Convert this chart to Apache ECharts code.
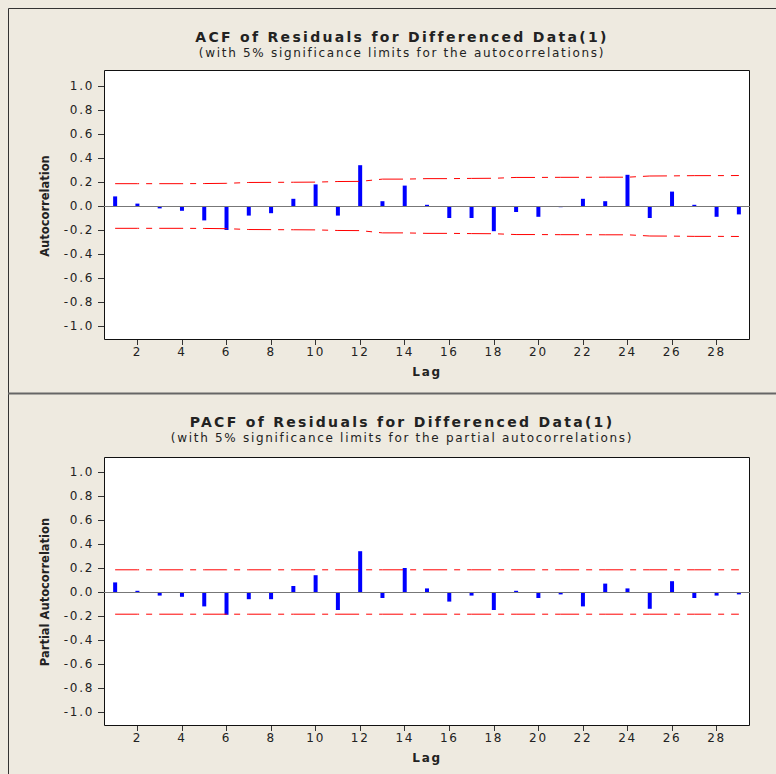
<!DOCTYPE html>
<html>
<head>
<meta charset="utf-8">
<script src="https://cdn.jsdelivr.net/npm/echarts@6/dist/echarts.min.js"></script>
<style>
  html, body { margin: 0; padding: 0; background: #EEEAE0; }
  #main { width: 776px; height: 774px; }
  /* Minitab-like loose letter spacing on titles and tick labels */
  #main text[style*="14px"] { letter-spacing: 2.3px; }
  #main text[style*="12px"] { letter-spacing: 1.7px; }
</style>
</head>
<body>
<div id="main"></div>
<script>
// lags 1..29
const lags = ['1','2','3','4','5','6','7','8','9','10','11','12','13','14','15',
  '16','17','18','19','20','21','22','23','24','25','26','27','28','29']

// ACF of residuals
const acfValues = [0.08, 0.02, -0.02, -0.04, -0.12, -0.20, -0.08, -0.06, 0.06, 0.18,
  -0.08, 0.34, 0.04, 0.17, 0.01, -0.10, -0.10, -0.21, -0.05, -0.09,
  -0.01, 0.06, 0.04, 0.26, -0.10, 0.12, 0.01, -0.09, -0.07]
const acfUpper = [0.186, 0.186, 0.186, 0.186, 0.187, 0.189, 0.196, 0.197, 0.198, 0.199,
  0.204, 0.205, 0.224, 0.224, 0.228, 0.228, 0.230, 0.231, 0.238, 0.238,
  0.239, 0.239, 0.240, 0.240, 0.250, 0.251, 0.253, 0.253, 0.254]
const acfLower = [-0.186, -0.186, -0.186, -0.186, -0.187, -0.189, -0.196, -0.197, -0.198, -0.199,
  -0.204, -0.205, -0.224, -0.224, -0.228, -0.228, -0.230, -0.231, -0.238, -0.238,
  -0.239, -0.239, -0.240, -0.240, -0.250, -0.251, -0.253, -0.253, -0.254]

// PACF of residuals
const pacfValues = [0.08, 0.01, -0.03, -0.04, -0.12, -0.19, -0.06, -0.06, 0.05, 0.14,
  -0.15, 0.34, -0.05, 0.20, 0.03, -0.08, -0.03, -0.15, 0.01, -0.05,
  -0.02, -0.12, 0.07, 0.03, -0.14, 0.09, -0.05, -0.03, -0.02]
const pacfUpper = [0.185, 0.185, 0.185, 0.185, 0.185, 0.185, 0.185, 0.185, 0.185, 0.185,
  0.185, 0.185, 0.185, 0.185, 0.185, 0.185, 0.185, 0.185, 0.185, 0.185,
  0.185, 0.185, 0.185, 0.185, 0.185, 0.185, 0.185, 0.185, 0.185]
const pacfLower = [-0.185, -0.185, -0.185, -0.185, -0.185, -0.185, -0.185, -0.185, -0.185, -0.185,
  -0.185, -0.185, -0.185, -0.185, -0.185, -0.185, -0.185, -0.185, -0.185, -0.185,
  -0.185, -0.185, -0.185, -0.185, -0.185, -0.185, -0.185, -0.185, -0.185]

const font = 'DejaVu Sans'
const textColor = '#222'
const evenLag = (idx) => (idx + 1) % 2 === 0

function xAxis(gridIndex) {
  return {
    type: 'category',
    gridIndex: gridIndex,
    data: lags,
    boundaryGap: true,
    offset: 14,
    name: 'Lag',
    nameLocation: 'middle',
    nameGap: 26,
    nameTextStyle: { fontFamily: font, fontWeight: 'bold', fontSize: 12, color: textColor },
    axisLine: { show: false, onZero: false },
    axisTick: { show: true, interval: evenLag, alignWithLabel: true, length: 5, lineStyle: { color: '#333' } },
    axisLabel: { interval: evenLag, fontFamily: font, fontSize: 12, color: textColor, margin: 6 },
    splitLine: { show: false }
  }
}

function yAxis(gridIndex, name) {
  return {
    type: 'value',
    gridIndex: gridIndex,
    min: -1,
    max: 1,
    interval: 0.2,
    name: name,
    nameLocation: 'middle',
    nameRotate: 90,
    nameGap: 53,
    nameTextStyle: { fontFamily: font, fontWeight: 'bold', fontSize: 11.5, color: textColor },
    axisLine: { show: false },
    axisTick: { show: true, length: 6, lineStyle: { color: '#333' } },
    axisLabel: {
      fontFamily: font, fontSize: 12, color: textColor, margin: 10,
      formatter: (v) => v.toFixed(1)
    },
    splitLine: { show: false }
  }
}

function barSeries(idx, values) {
  return {
    type: 'bar',
    xAxisIndex: idx,
    yAxisIndex: idx,
    data: values,
    barWidth: 4,
    itemStyle: { color: '#0000FF' },
    silent: true,
    z: 3,
    markLine: {
      silent: true,
      symbol: 'none',
      label: { show: false },
      lineStyle: { color: '#777', width: 1, type: 'solid' },
      data: [{ yAxis: 0 }]
    }
  }
}

function limitSeries(idx, values) {
  return {
    type: 'line',
    xAxisIndex: idx,
    yAxisIndex: idx,
    data: values,
    symbol: 'none',
    silent: true,
    z: 4,
    lineStyle: { color: '#FF0000', width: 1, type: [24, 7, 6, 7] }
  }
}

const chart = echarts.init(document.getElementById('main'), null, { renderer: 'svg' })

chart.setOption({
  backgroundColor: '#EEEAE0',
  animation: false,
  title: [
    {
      text: 'ACF of Residuals for Differenced Data(1)',
      subtext: '(with 5% significance limits for the autocorrelations)',
      left: 397, top: 25, textAlign: 'center', itemGap: 3,
      textStyle: { fontFamily: font, fontWeight: 'bold', fontSize: 14, color: textColor },
      subtextStyle: { fontFamily: font, fontSize: 12, color: textColor }
    },
    {
      text: 'PACF of Residuals for Differenced Data(1)',
      subtext: '(with 5% significance limits for the partial autocorrelations)',
      left: 397, top: 410, textAlign: 'center', itemGap: 3,
      textStyle: { fontFamily: font, fontWeight: 'bold', fontSize: 14, color: textColor },
      subtextStyle: { fontFamily: font, fontSize: 12, color: textColor }
    }
  ],
  graphic: [
    // panel borders
    { type: 'rect', shape: { x: 8.5, y: 8.5, width: 800, height: 900 }, style: { fill: 'none', stroke: '#333', lineWidth: 1 }, z: 0 },
    { type: 'line', shape: { x1: 8, y1: 393.5, x2: 776, y2: 393.5 }, style: { stroke: '#666', lineWidth: 2 }, z: 0 },
    // plot frames
    { type: 'rect', shape: { x: 104.5, y: 70.5, width: 645, height: 269 }, style: { fill: '#fff', stroke: '#111', lineWidth: 1 }, z: 0 },
    { type: 'rect', shape: { x: 104.5, y: 457.5, width: 645, height: 268 }, style: { fill: '#fff', stroke: '#111', lineWidth: 1 }, z: 0 }
  ],
  grid: [
    { left: 104, width: 646, top: 86, height: 240 },
    { left: 104, width: 646, top: 472, height: 240 }
  ],
  xAxis: [xAxis(0), xAxis(1)],
  yAxis: [yAxis(0, 'Autocorrelation'), yAxis(1, 'Partial Autocorrelation')],
  series: [
    barSeries(0, acfValues),
    limitSeries(0, acfUpper),
    limitSeries(0, acfLower),
    barSeries(1, pacfValues),
    limitSeries(1, pacfUpper),
    limitSeries(1, pacfLower)
  ]
})
</script>
</body>
</html>
